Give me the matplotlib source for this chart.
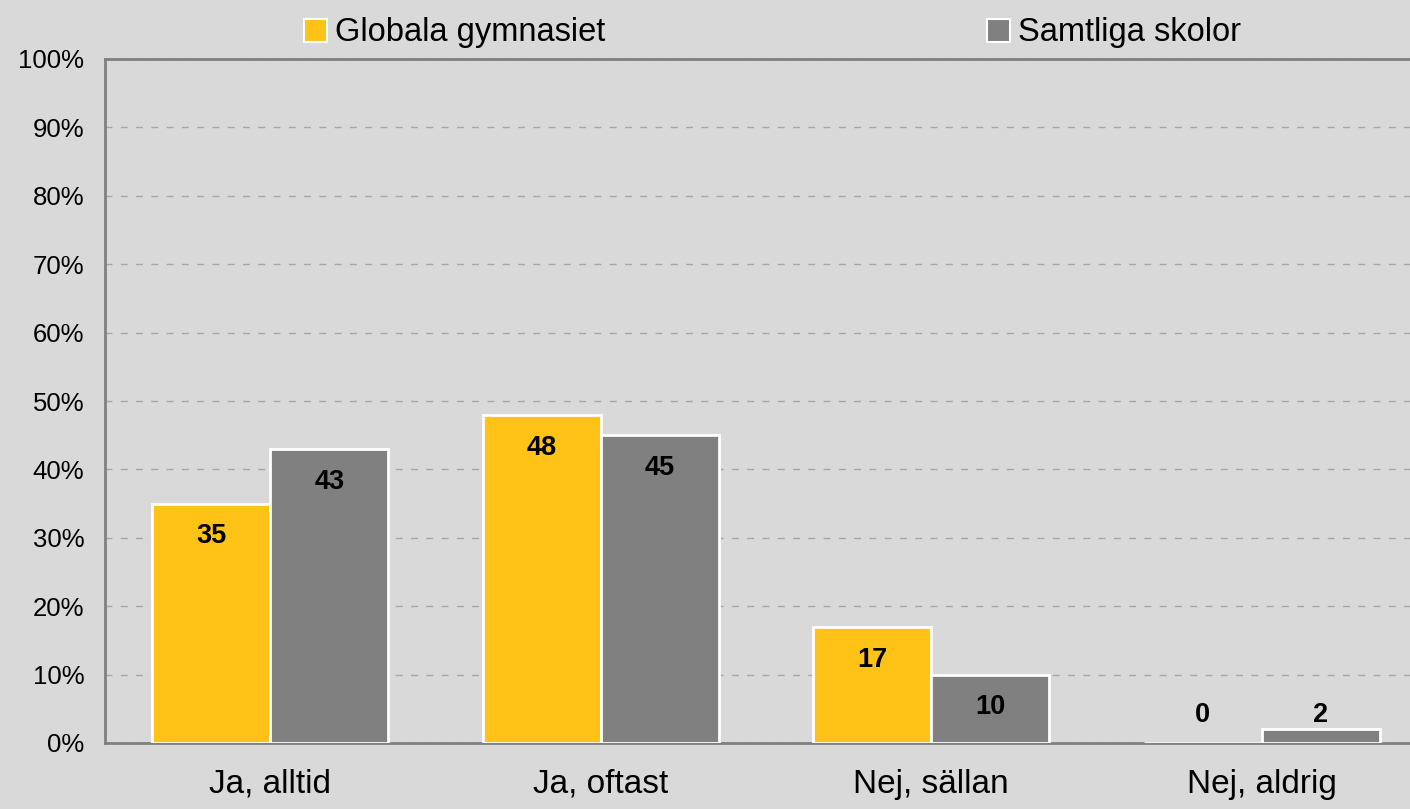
import matplotlib
matplotlib.use("Agg")
import matplotlib.pyplot as plt
import numpy as np
from matplotlib.patches import Patch
from matplotlib.ticker import FuncFormatter, MultipleLocator

categories = ["Ja, alltid", "Ja, oftast", "Nej, sällan", "Nej, aldrig"]
globala = [35, 48, 17, 0]
samtliga = [43, 45, 10, 2]
series_names = ["Globala gymnasiet", "Samtliga skolor"]
colors = ["#FFC217", "#808080"]

plt.rcParams['font.family'] = ['Liberation Sans', 'DejaVu Sans']

fig = plt.figure(figsize=(14.1, 8.09), dpi=100)
bg = "#D9D9D9"
fig.patch.set_facecolor(bg)
ax = fig.add_axes([105/1410, 1-743/809, (1427-105)/1410, (743-59)/809])
ax.set_facecolor(bg)

x = np.arange(len(categories))
w = 0.357
ax.bar(x - w/2, globala, width=w, color=colors[0], edgecolor="white", linewidth=2, zorder=3)
ax.bar(x + w/2, samtliga, width=w, color=colors[1], edgecolor="white", linewidth=2, zorder=3)

def lab_y(v):
    return max(v - 4.8, 4.05)

for i in range(len(categories)):
    for off, vals in ((-w/2, globala), (w/2, samtliga)):
        ax.text(x[i] + off, lab_y(vals[i]), f"{vals[i]}", ha="center", va="center",
                fontsize=19.5, fontweight="bold", color="black", zorder=4)

ax.set_xlim(-0.5, len(categories) - 0.5)
ax.set_ylim(0, 100)
ax.yaxis.set_major_locator(MultipleLocator(10))
ax.yaxis.set_major_formatter(FuncFormatter(lambda v, p: f"{int(v)}%"))
ax.grid(axis="y", color="#A6A6A6", linestyle=(0, (5, 6)), linewidth=1, zorder=0)
ax.set_xticks(x)
ax.set_xticklabels(categories, fontsize=24)
ax.tick_params(axis="x", length=0, pad=18.5)
ax.tick_params(axis="y", length=0, labelsize=18.5, pad=15)
for s in ["left", "bottom", "top"]:
    ax.spines[s].set_color("#808080")
    ax.spines[s].set_linewidth(2)
ax.spines["right"].set_visible(False)

yl = 1 - 33/809
for xpos, name, col in ((304/1410, series_names[0], colors[0]), (987/1410, series_names[1], colors[1])):
    h = Patch(facecolor=col, edgecolor="white", linewidth=1.5)
    fig.legend([h], [name], loc="center left", bbox_to_anchor=(xpos, yl),
               frameon=False, fontsize=23.5, handlelength=0.7, handleheight=0.7,
               handletextpad=0.25, borderpad=0, borderaxespad=0)

fig.savefig("out.png", dpi=100, facecolor=bg)
